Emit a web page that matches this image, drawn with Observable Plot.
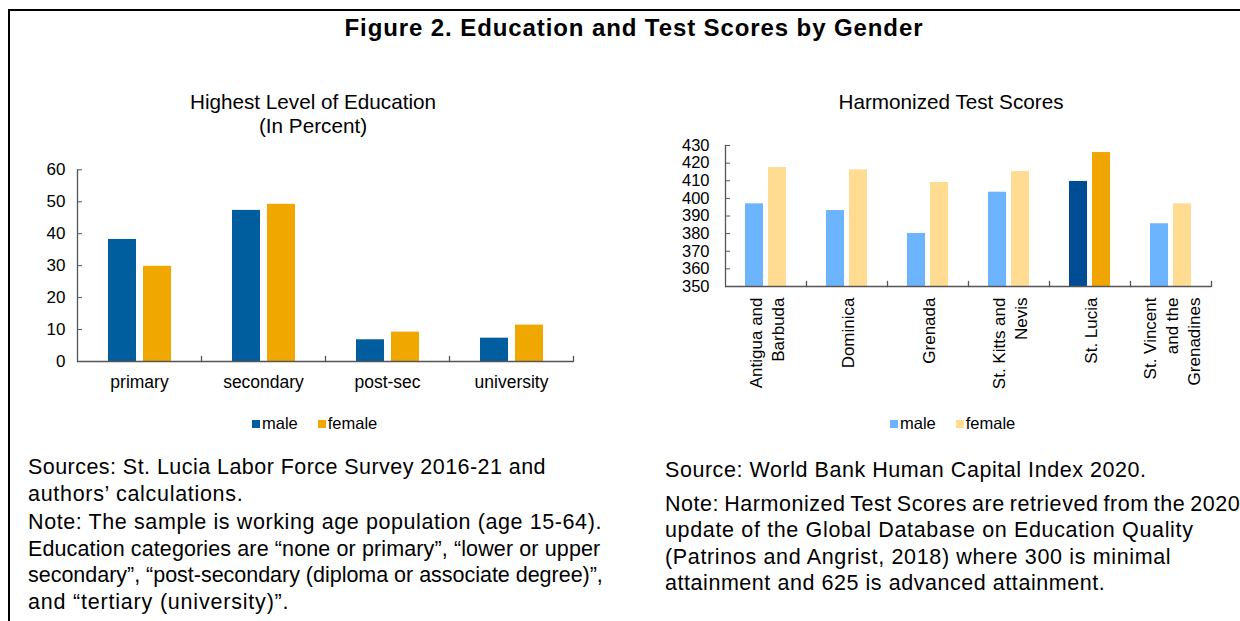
<!DOCTYPE html>
<html>
<head>
<meta charset="utf-8">
<script src="https://cdn.jsdelivr.net/npm/d3@7"></script>
<script src="https://cdn.jsdelivr.net/npm/@observablehq/plot@0.6"></script>
<style>
  html, body { margin: 0; padding: 0; background: #fff; }
  body { width: 1240px; height: 621px; position: relative; overflow: hidden;
         font-family: "Liberation Sans", Arial, sans-serif; color: #000; }
  .abs { position: absolute; }
  #frame { left: 8px; top: 9px; width: 1400px; height: 800px;
           border-top: 2px solid #000; border-left: 2px solid #000; }
  #title { left: 0; width: 1268px; top: 14px; text-align: center;
           font-weight: bold; font-size: 24px; letter-spacing: 0.9px; }
  .sub { text-align: center; font-size: 20.7px; line-height: 24px; }
  .legend { font-size: 16.5px; display: flex; align-items: center; white-space: nowrap; }
  .legend .sw { display: inline-block; width: 8px; height: 8px; margin-right: 2px; }
  .legend .item { display: inline-flex; align-items: center; margin-right: 20px; }
  .note { font-size: 21.5px; line-height: 26.5px; white-space: nowrap; letter-spacing: 0.55px; }
  .note p { margin: 0 0 2px 0; }
</style>
</head>
<body>
<div id="frame" class="abs"></div>
<div id="title" class="abs">Figure 2. Education and Test Scores by Gender</div>

<div class="abs sub" style="left:113px;width:400px;top:90px;">Highest Level of Education<br>(In Percent)</div>
<div class="abs sub" style="left:751px;width:400px;top:90px;">Harmonized Test Scores</div>

<div id="left" class="abs" style="left:0;top:150px;"></div>
<div id="right" class="abs" style="left:660px;top:130px;"></div>

<div id="legL" class="abs legend" style="left:252px;top:414px;"></div>
<div id="legR" class="abs legend" style="left:890px;top:414px;"></div>

<div class="abs note" style="left:28px;top:454px;">
  <p><span style="letter-spacing:0.45px">Sources: St. Lucia Labor Force Survey 2016-21 and</span><br><span style="letter-spacing:0.7px">authors’ calculations.</span></p>
  <p><span style="letter-spacing:0.6px">Note: The sample is working age population (age 15-64).</span><br><span style="letter-spacing:0.12px">Education categories are “none or primary”, “lower or upper</span><br><span style="letter-spacing:-0.02px">secondary”, “post-secondary (diploma or associate degree)”,</span><br><span style="letter-spacing:0.8px">and “tertiary (university)”.</span></p>
</div>
<div class="abs note" style="left:665px;top:457px;">
  <p style="margin-bottom:7px;">Source: World Bank Human Capital Index 2020.</p>
  <p><span style="word-spacing:-1.5px">Note: Harmonized Test Scores are retrieved from the 2020</span><br><span style="letter-spacing:0.65px">update of the Global Database on Education Quality</span><br><span style="letter-spacing:0.65px">(Patrinos and Angrist, 2018) where 300 is minimal</span><br>attainment and 625 is advanced attainment.</p>
</div>

<script>
// ---------- data ----------
const sexes = ["male", "female"];

const eduCategories = ["primary", "secondary", "post-sec", "university"];
const eduMale = [38.2, 47.3, 6.8, 7.3];
const eduFemale = [29.8, 49.2, 9.2, 11.4];
const eduTicks = [0, 10, 20, 30, 40, 50, 60];

const countries = ["Antigua and\nBarbuda", "Dominica", "Grenada", "St. Kitts and\nNevis", "St. Lucia", "St. Vincent\nand the\nGrenadines"];
const hciMale = [396.9, 393.1, 380.1, 403.5, 409.6, 385.6];
const hciFemale = [417.5, 416.2, 409.0, 415.2, 426.0, 396.9];
const hciTicks = [350, 360, 370, 380, 390, 400, 410, 420, 430];
const highlight = "St. Lucia";

// ---------- styles ----------
const eduColors = {male: "#005d9e", female: "#f0a800"};
const hciColors = {male: "#6cb4fe", female: "#ffdc92"};
const hciHighlightColors = {male: "#004c95", female: "#f0a500"};
const axisColor = "#555";

// ---------- tables ----------
const eduData = eduCategories.flatMap((c, i) => [
  {cat: c, sex: "male", value: eduMale[i]},
  {cat: c, sex: "female", value: eduFemale[i]}
]);
const hciData = countries.flatMap((c, i) => [
  {cat: c, sex: "male", value: hciMale[i]},
  {cat: c, sex: "female", value: hciFemale[i]}
]);

// ---------- left chart ----------
const L = {width: 600, height: 250, mt: 19.3, mb: 39, ml: 76, mr: 26};
const leftPlot = Plot.plot({
  width: L.width, height: L.height,
  marginTop: L.mt, marginBottom: L.mb, marginLeft: L.ml, marginRight: L.mr,
  style: {fontFamily: "Liberation Sans, Arial, sans-serif", fontSize: "17px", color: "#000", background: "transparent"},
  fx: {domain: eduCategories, padding: 0, label: null},
  x: {domain: sexes, paddingInner: 0.214, paddingOuter: 0.878, axis: null},
  y: {domain: [0, 60], label: null, axis: null},
  color: {domain: sexes, range: [eduColors.male, eduColors.female]},
  marks: [
    Plot.barY(eduData, {fx: "cat", x: "sex", y: "value", fill: "sex"}),
    Plot.ruleY([0], {stroke: axisColor, strokeWidth: 1.3}),
    Plot.frame({anchor: "left", facetAnchor: "left", stroke: axisColor, strokeWidth: 1.3}),
    Plot.frame({anchor: "right", stroke: axisColor, strokeWidth: 1.3, insetTop: L.height - L.mt - L.mb - 5}),
    Plot.axisY({ticks: eduTicks, tickSize: -5, tickPadding: 17, label: null, stroke: axisColor, fontSize: 17}),
    Plot.axisFx({anchor: "bottom", tickSize: 0, tickPadding: 14, label: null, fontSize: 17.5})
  ]
});
document.getElementById("left").appendChild(leftPlot);

// ---------- right chart ----------
const R = {width: 560, height: 280, mt: 15, mb: 124, ml: 65, mr: 9};
const rightPlot = Plot.plot({
  width: R.width, height: R.height,
  marginTop: R.mt, marginBottom: R.mb, marginLeft: R.ml, marginRight: R.mr,
  style: {fontFamily: "Liberation Sans, Arial, sans-serif", fontSize: "17px", color: "#000", background: "transparent"},
  fx: {domain: countries, padding: 0, label: null},
  x: {domain: sexes, paddingInner: 0.217, paddingOuter: 0.869, axis: null},
  y: {domain: [350, 430], label: null, axis: null},
  marks: [
    Plot.barY(hciData, {
      fx: "cat", x: "sex", y1: 350, y2: "value",
      fill: d => (d.cat === highlight ? hciHighlightColors : hciColors)[d.sex]
    }),
    Plot.ruleY([350], {stroke: axisColor, strokeWidth: 1.3}),
    Plot.frame({anchor: "left", facetAnchor: "left", stroke: axisColor, strokeWidth: 1.3}),
    Plot.frame({anchor: "right", stroke: axisColor, strokeWidth: 1.3, insetTop: R.height - R.mt - R.mb - 5}),
    Plot.axisY({ticks: hciTicks, tickSize: -5, tickPadding: 21, label: null, stroke: axisColor, fontSize: 16.5}),
    Plot.axisFx({anchor: "bottom", tickSize: 0, tickPadding: 11, tickRotate: -90, label: null,
                 fontSize: 17, textAnchor: "end", lineAnchor: "middle", lineHeight: 1.28})
  ]
});
document.getElementById("right").appendChild(rightPlot);

// ---------- legends ----------
function legend(el, colors) {
  const root = document.getElementById(el);
  sexes.forEach(s => {
    const item = document.createElement("span");
    item.className = "item";
    item.innerHTML = `<span class="sw" style="background:${colors[s]}"></span>${s}`;
    root.appendChild(item);
  });
}
legend("legL", eduColors);
legend("legR", hciColors);
</script>
</body>
</html>
